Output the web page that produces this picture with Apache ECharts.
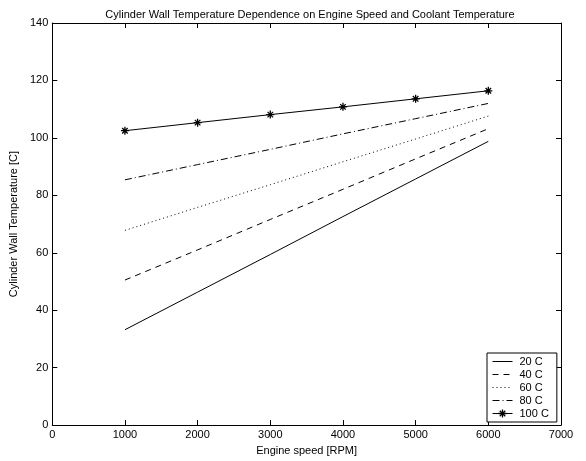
<!DOCTYPE html>
<html>
<head>
<meta charset="utf-8">
<script src="https://cdn.jsdelivr.net/npm/echarts@6/dist/echarts.min.js"></script>
<style>html,body{margin:0;padding:0;background:#fff}#c{width:586px;height:461px}</style>
</head>
<body>
<div id="c"></div>
<script>
var speeds = [1000, 2000, 3000, 4000, 5000, 6000];
var seriesNames = ['20 C', '40 C', '60 C', '80 C', '100 C'];
var temp20 = [33.2, 46.3, 59.4, 72.6, 85.7, 98.8];
var temp40 = [50.5, 61.0, 71.6, 82.1, 92.7, 103.2];
var temp60 = [67.8, 75.8, 83.7, 91.7, 99.6, 107.6];
var temp80 = [85.4, 90.7, 96.0, 101.4, 106.7, 112.0];
var temp100 = [102.5, 105.3, 108.1, 110.8, 113.6, 116.4];
var xTicks = [0, 1000, 2000, 3000, 4000, 5000, 6000, 7000];
var yTicks = [0, 20, 40, 60, 80, 100, 120, 140];

var FONT = 'Liberation Sans, Arial, sans-serif';
var asterisk = 'path://M0,4.2L10,4.2L10,5.8L0,5.8Z M4.2,0L5.8,0L5.8,10L4.2,10Z M1.0,2.1L2.1,1.0L9.0,7.9L7.9,9.0Z M7.9,1.0L9.0,2.1L2.1,9.0L1.0,7.9Z';

function pairs(vals) { return speeds.map(function (s, i) { return [s, vals[i]]; }); }
var allVals = [temp20, temp40, temp60, temp80, temp100];
var dashes = ['solid', [6, 5], [1, 3], [7, 3, 1, 3], 'solid'];

var series = allVals.map(function (v, i) {
  var last = i === 4;
  return {
    name: seriesNames[i],
    type: 'line',
    data: pairs(v),
    xAxisIndex: 0, yAxisIndex: 0,
    symbol: last ? asterisk : 'circle',
    symbolSize: last ? 8 : 0,
    showSymbol: last,
    itemStyle: last ? { color: '#000' } : { color: 'rgba(0,0,0,0)', borderWidth: 0, opacity: 0 },
    lineStyle: { color: '#000', width: 1, type: dashes[i] },
    emphasis: { disabled: true },
    animation: false
  };
});

var axisCommon = {
  type: 'value',
  splitLine: { show: false },
  axisLine: { show: true, onZero: false, lineStyle: { color: '#000', width: 1 } },
  axisTick: { show: true, inside: true, length: 5, lineStyle: { color: '#000' } }
};

var chart = echarts.init(document.getElementById('c'), null, { renderer: 'canvas' });
chart.setOption({
  backgroundColor: '#fff',
  animation: false,
  title: {
    text: 'Cylinder Wall Temperature Dependence on Engine Speed and Coolant Temperature',
    left: 305, top: 4, textAlign: 'center',
    textStyle: { fontFamily: FONT, fontSize: 11, fontWeight: 'normal', color: '#000' }
  },
  grid: { left: 50, right: 25, top: 23, bottom: 35, containLabel: false },
  legend: {
    orient: 'vertical',
    left: 487, top: 353,
    padding: [3, 8, 3, 5],
    itemWidth: 20, itemHeight: 10, itemGap: 2,
    backgroundColor: '#fff',
    borderColor: '#000', borderWidth: 1, borderRadius: 0,
    lineStyle: { width: 1 },
    textStyle: { fontFamily: FONT, fontSize: 11, lineHeight: 10, color: '#000', padding: [0, 0, 0, 2] },
    data: seriesNames.map(function (n) { return { name: n, icon: 'inherit' }; }),
    selectedMode: false
  },
  xAxis: [
    Object.assign({}, axisCommon, {
      min: xTicks[0], max: xTicks[xTicks.length - 1], interval: 1000,
      position: 'bottom',
      name: 'Engine speed [RPM]', nameLocation: 'middle', nameGap: 17,
      nameTextStyle: { fontFamily: FONT, fontSize: 11, color: '#000' },
      axisLabel: { fontFamily: FONT, fontSize: 11, color: '#000', margin: 4,
        formatter: function (v) { return String(v); } }
    }),
    Object.assign({}, axisCommon, {
      min: xTicks[0], max: xTicks[xTicks.length - 1], interval: 1000,
      position: 'top',
      axisLabel: { show: false }
    })
  ],
  yAxis: [
    Object.assign({}, axisCommon, {
      min: yTicks[0], max: yTicks[yTicks.length - 1], interval: 20,
      position: 'left',
      name: 'Cylinder Wall Temperature [C]', nameLocation: 'middle', nameGap: 27,
      nameTextStyle: { fontFamily: FONT, fontSize: 11, color: '#000' },
      axisLabel: { fontFamily: FONT, fontSize: 11, color: '#000', margin: 4,
        formatter: function (v) { return String(v); } }
    }),
    Object.assign({}, axisCommon, {
      min: yTicks[0], max: yTicks[yTicks.length - 1], interval: 20,
      position: 'right',
      axisLabel: { show: false }
    })
  ],
  series: series
});
</script>
</body>
</html>
